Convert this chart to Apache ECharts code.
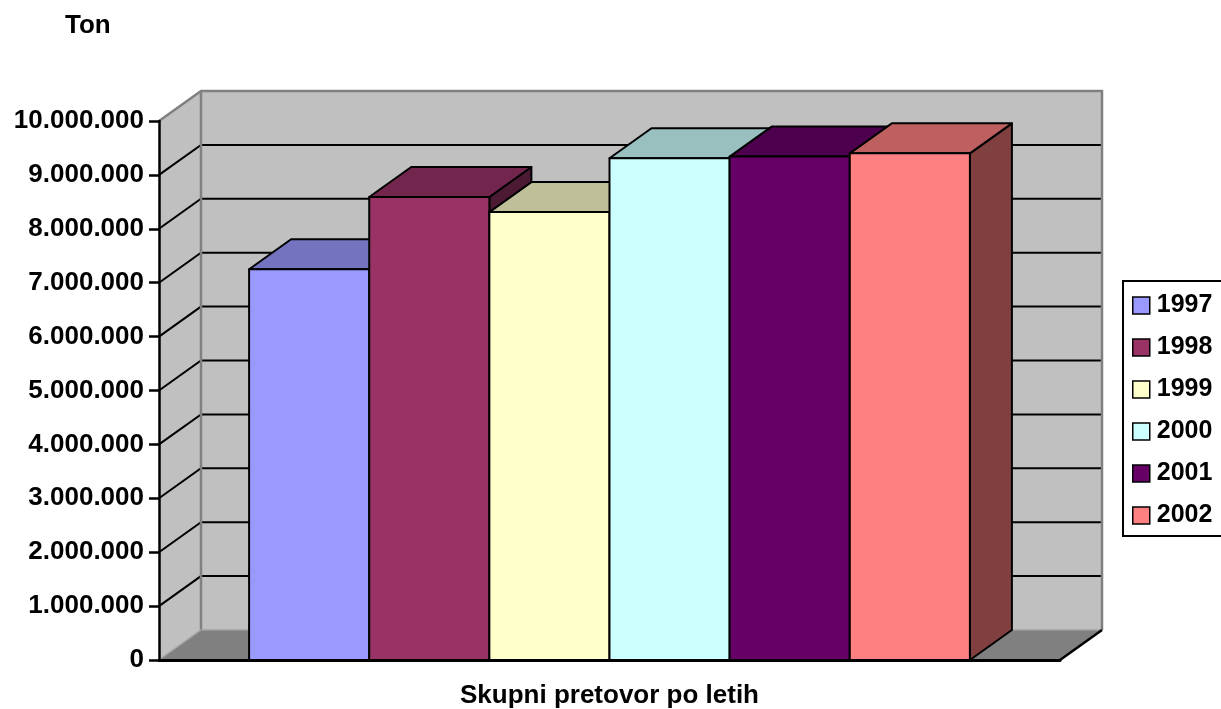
<!DOCTYPE html>
<html>
<head>
<meta charset="utf-8">
<title>Skupni pretovor po letih</title>
<script src="https://cdn.jsdelivr.net/npm/echarts@6/dist/echarts.min.js"></script>
<style>
  html, body { margin: 0; padding: 0; background: #ffffff; }
  #chart { width: 1221px; height: 709px; }
</style>
</head>
<body>
<div id="chart"></div>
<script>
// Annual cargo throughput (tonnes), one column per year
const years = ['1997', '1998', '1999', '2000', '2001', '2002'];
const tonnes = [7250000, 8590000, 8310000, 9310000, 9340000, 9400000];
const category = 'Skupni pretovor po letih';
const yTicks = [0, 1000000, 2000000, 3000000, 4000000, 5000000,
                6000000, 7000000, 8000000, 9000000, 10000000];

// Face colours: front, top (shaded), side (darker)
const frontColors = ['#9999FF', '#993366', '#FFFFCC', '#CCFFFF', '#660066', '#FF8080'];
const topColors   = ['#7373BF', '#73264D', '#BFBF99', '#99BFBF', '#4D004D', '#BF6060'];
const sideColors  = ['#4D4D80', '#4D1A33', '#808066', '#668080', '#330033', '#804040'];

// 3D depth projection (pixels) and gap on each side of the column group, in column widths
const DX = 42, DY = -30;
const EDGE_GAP = 0.75;
const FONT = '"Liberation Sans", Arial, sans-serif';

function fmt(v) {
  return String(v).replace(/\B(?=(\d{3})+(?!\d))/g, '.');
}

// Back wall, side wall, floor and the gridlines on the walls
function renderWalls(params, api) {
  const cs = params.coordSys;
  const xl = cs.x, xr = cs.x + cs.width;
  const yTop = api.coord([0, yTicks[yTicks.length - 1]])[1];
  const yBase = api.coord([0, 0])[1];
  const children = [];
  // floor
  children.push({
    type: 'polygon',
    shape: { points: [[xl, yBase], [xl + DX, yBase + DY], [xr + DX, yBase + DY], [xr, yBase]] },
    style: { fill: '#808080', stroke: null }
  });
  // back wall
  children.push({
    type: 'rect',
    shape: { x: xl + DX, y: yTop + DY, width: xr - xl, height: yBase - yTop },
    style: { fill: '#C0C0C0', stroke: null }
  });
  // left side wall
  children.push({
    type: 'polygon',
    shape: { points: [[xl, yTop], [xl + DX, yTop + DY], [xl + DX, yBase + DY], [xl, yBase]] },
    style: { fill: '#C0C0C0', stroke: null }
  });
  // gridlines on back and side walls
  yTicks.forEach(function (v, i) {
    if (i === 0 || i === yTicks.length - 1) return;
    const y = api.coord([0, v])[1];
    children.push({
      type: 'polyline',
      shape: { points: [[xl, y], [xl + DX, y + DY], [xr + DX, y + DY]] },
      style: { stroke: '#000000', lineWidth: 2, fill: null }
    });
  });
  // wall edges
  children.push({
    type: 'polyline',
    shape: { points: [[xl, yTop], [xl + DX, yTop + DY], [xr + DX, yTop + DY], [xr + DX, yBase + DY]] },
    style: { stroke: '#808080', lineWidth: 2.5, fill: null }
  });
  children.push({
    type: 'line',
    shape: { x1: xl + DX, y1: yTop + DY, x2: xl + DX, y2: yBase + DY },
    style: { stroke: '#808080', lineWidth: 2.5 }
  });
  children.push({
    type: 'polyline',
    shape: { points: [[xl, yBase], [xl + DX, yBase + DY], [xr + DX, yBase + DY]] },
    style: { stroke: '#A0A0A0', lineWidth: 1.5, fill: null }
  });
  children.push({
    type: 'line',
    shape: { x1: xr, y1: yBase, x2: xr + DX, y2: yBase + DY },
    style: { stroke: '#000000', lineWidth: 2.5 }
  });
  return { type: 'group', children: children };
}

// One 3D column: side face, top face, front face
function columnRenderer(idx) {
  return function (params, api) {
    const base = api.coord([0, 0]);
    const top = api.coord([0, api.value(1)]);
    const band = api.size([1, 0])[0];
    const bw = band / (years.length + 2 * EDGE_GAP);
    const x0 = base[0] - band / 2 + (EDGE_GAP + idx) * bw;
    const x1 = x0 + bw;
    const y0 = base[1], y1 = top[1];
    const line = { stroke: '#000000', lineWidth: 2, lineJoin: 'round' };
    return {
      type: 'group',
      children: [
        {
          type: 'polygon',
          shape: { points: [[x1, y1], [x1 + DX, y1 + DY], [x1 + DX, y0 + DY], [x1, y0]] },
          style: Object.assign({ fill: sideColors[idx] }, line)
        },
        {
          type: 'polygon',
          shape: { points: [[x0, y1], [x0 + DX, y1 + DY], [x1 + DX, y1 + DY], [x1, y1]] },
          style: Object.assign({ fill: topColors[idx] }, line)
        },
        {
          type: 'rect',
          shape: { x: x0, y: y1, width: bw, height: y0 - y1 },
          style: Object.assign({ fill: frontColors[idx] }, line)
        }
      ]
    };
  };
}

const series = [{
  name: 'walls',
  type: 'custom',
  renderItem: renderWalls,
  data: [[0, 0]],
  clip: false,
  silent: true,
  z: 1
}];
years.forEach(function (y, i) {
  series.push({
    name: y,
    type: 'custom',
    renderItem: columnRenderer(i),
    data: [[0, tonnes[i]]],
    itemStyle: { color: frontColors[i] },
    clip: false,
    z: 2 + i
  });
});

const chart = echarts.init(document.getElementById('chart'), null, { renderer: 'canvas' });
chart.setOption({
  animation: false,
  color: frontColors,
  title: {
    text: 'Ton',
    left: 65,
    top: 13,
    padding: 0,
    textStyle: { fontFamily: FONT, fontSize: 26, fontWeight: 'bold', color: '#000000' }
  },
  legend: {
    data: years,
    orient: 'vertical',
    left: 1123,
    top: 281,
    padding: [12, 20, 8, 9],
    itemGap: 17,
    itemWidth: 17,
    itemHeight: 17,
    icon: 'rect',
    borderColor: '#000000',
    borderWidth: 2,
    itemStyle: { borderColor: '#000000', borderWidth: 1.5 },
    textStyle: { fontFamily: FONT, fontSize: 25, fontWeight: 'bold', color: '#000000', padding: [0, 0, 0, 2] }
  },
  grid: { left: 159, right: 161, top: 121, bottom: 46.5 },
  xAxis: {
    type: 'category',
    data: [category],
    z: 10,
    axisLine: { lineStyle: { color: '#000000', width: 3 } },
    axisTick: { length: 10, lineStyle: { color: '#000000', width: 2.5 } },
    axisLabel: { margin: 23, fontFamily: FONT, fontSize: 26, fontWeight: 'bold', color: '#000000' },
    splitLine: { show: false }
  },
  yAxis: {
    type: 'value',
    min: 0,
    max: 10000000,
    interval: 1000000,
    z: 10,
    axisLine: { show: true, lineStyle: { color: '#000000', width: 2.5 } },
    axisTick: { show: true, length: 10, lineStyle: { color: '#000000', width: 2.5 } },
    axisLabel: { margin: 15, formatter: fmt, fontFamily: FONT, fontSize: 26, fontWeight: 'bold', color: '#000000' },
    splitLine: { show: false }
  },
  series: series
});
</script>
</body>
</html>
